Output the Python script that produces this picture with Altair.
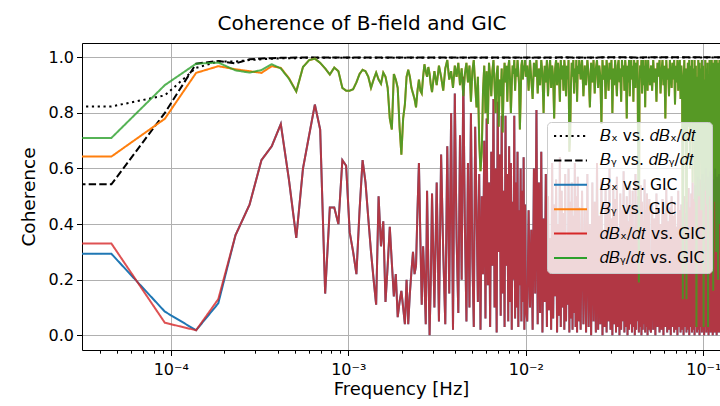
import altair as alt
import pandas as pd

# ---------------- data ----------------
bin_width_hz = 1.0 / 21600.0      # spectral bin width (6 h window)
dc_stand_in_hz = 1.0e-5           # stand-in for the 0 Hz bin (off the log axis, clipped)

B = "\U0001D435"
d = "\U0001D451"
t = "\U0001D461"
sx = "\u2093"
sy = "\u1D67"
series_labels = [
    f"{B}{sx} vs. {d}{B}{sx}/{d}{t}",
    f"{B}{sy} vs. {d}{B}{sy}/{d}{t}",
    f"{B}{sx} vs. GIC",
    f"{B}{sy} vs. GIC",
    f"{d}{B}{sx}/{d}{t} vs. GIC",
    f"{d}{B}{sy}/{d}{t} vs. GIC",
]
series_colors = ["#000000", "#000000", "#1f77b4", "#ff7f0e", "#d62728", "#2ca02c"]
series_dashes = [[2.2, 3.6], [7.4, 3.2], [1, 0], [1, 0], [1, 0], [1, 0]]

# Bx vs dBx/dt
bx_dbx_a = [0.823, 0.863, 0.962, 0.985, 0.985, 0.990, 0.993, 0.995, 0.996, 0.997, 0.997, 0.998]
bx_dbx_tail = [0.998, 0.998, 0.998, 0.999, 0.998, 0.999, 0.999, 0.999, 0.998, 0.999, 0.999, 0.999,
               0.999, 0.999, 0.999, 0.999, 0.999, 0.999, 0.999, 0.999, 0.999, 0.999, 0.999, 0.999, 0.999]
# By vs dBy/dt
by_dby_a = [0.543, 0.800, 0.977, 0.987, 0.978, 0.993, 0.996, 0.997, 0.998, 0.998, 0.999, 0.999]
by_dby_tail = [0.999, 0.999, 0.999, 1.000, 0.999, 1.000, 1.000, 1.000, 0.999, 1.000, 1.000, 1.000,
               1.000, 1.000, 1.000, 1.000, 1.000, 1.000, 1.000, 1.000, 1.000, 1.000, 1.000, 1.000, 1.000]

# dBx/dt vs GIC (bins 1..64, then thinned bins)
dbx_gic_a = [0.33, 0.045, 0.018, 0.13, 0.36, 0.47, 0.63, 0.68, 0.76, 0.56,
             0.35, 0.60, 0.72, 0.83, 0.74, 0.15, 0.46, 0.46, 0.40, 0.63,
             0.61, 0.37, 0.30, 0.22, 0.45, 0.63, 0.55, 0.42, 0.30, 0.20,
             0.11, 0.50, 0.32, 0.41, 0.12, 0.25, 0.39, 0.26, 0.14, 0.22,
             0.065, 0.12, 0.16, 0.10, 0.04, 0.20, 0.04, 0.15, 0.23, 0.30,
             0.22, 0.25, 0.45, 0.62, 0.35, 0.11, 0.32, 0.20, 0.04, 0.52,
             0.25, 0.00, 0.20, 0.51]
dbx_gic_b = [0.10, 0.55, 0.05, 0.65, 0.30, 0.04, 0.68, 0.15, 0.80, 0.02,
             0.87, 0.35, 0.08, 0.72, 0.20, 0.93, 0.40, 0.05, 0.62, 0.10,
             0.80, 0.28, 0.03, 0.75, 0.45, 0.12, 0.58, 0.02, 0.50, 0.22,
             0.70, 0.06, 0.78, 0.18, 0.55, 0.03, 0.66, 0.25, 0.85, 0.10,
             0.60, 0.01, 0.84, 0.30, 0.65, 0.07, 0.79, 0.15, 0.52, 0.03,
             0.79, 0.25, 0.58, 0.05, 0.68, 0.12, 0.62, 0.02, 0.48, 0.20,
             0.79, 0.06, 0.55, 0.10, 0.66, 0.03, 0.45, 0.18, 0.60, 0.05,
             0.52, 0.12, 0.64, 0.02, 0.47, 0.10]
dbx_gic_c1 = [0.05, 0.45, 0.10, 0.38, 0.02, 0.60, 0.15, 0.81, 0.04, 0.55,
              0.08, 0.66, 0.01, 0.42, 0.12, 0.58, 0.03, 0.50, 0.09, 0.35,
              0.02, 0.62, 0.06, 0.47, 0.14, 0.56, 0.01, 0.40, 0.07, 0.64,
              0.03, 0.52, 0.10, 0.44, 0.02, 0.58, 0.05, 0.36, 0.11, 0.60,
              0.01, 0.48, 0.06, 0.55, 0.02, 0.43, 0.08, 0.62, 0.03, 0.50,
              0.01, 0.57, 0.05, 0.46]
dbx_gic_c2 = [0.02, 0.52, 0.04, 0.45, 0.01, 0.58, 0.03, 0.40, 0.00, 0.55,
              0.05, 0.48, 0.01, 0.62, 0.02, 0.43, 0.04, 0.56, 0.00, 0.38,
              0.03, 0.53, 0.01, 0.47, 0.05, 0.60, 0.02, 0.42, 0.00, 0.54,
              0.04, 0.49, 0.01, 0.57, 0.03, 0.36, 0.00, 0.51, 0.02, 0.45,
              0.05, 0.59, 0.01, 0.44, 0.03, 0.50, 0.00, 0.41, 0.02, 0.55,
              0.04, 0.47, 0.01, 0.52, 0.03, 0.39, 0.00, 0.58, 0.02, 0.46,
              0.05, 0.50, 0.01, 0.43, 0.03, 0.54, 0.00, 0.48, 0.02, 0.41,
              0.04, 0.56, 0.01, 0.45, 0.03, 0.51, 0.00, 0.44, 0.02, 0.49,
              0.03]
dbx_gic_c3 = [0.01, 0.47, 0.02, 0.42, 0.00, 0.51, 0.03, 0.45, 0.01, 0.40,
              0.02, 0.49, 0.00, 0.44, 0.03, 0.53, 0.01, 0.41, 0.02, 0.46,
              0.00, 0.50, 0.03, 0.43, 0.01, 0.48, 0.02, 0.39, 0.00, 0.52,
              0.03, 0.45, 0.01, 0.47, 0.02, 0.42, 0.00, 0.50, 0.03, 0.44,
              0.01, 0.48, 0.02, 0.53, 0.00, 0.46, 0.03, 0.51, 0.01, 0.55,
              0.02, 0.49, 0.00, 0.54, 0.03, 0.50, 0.01, 0.57, 0.02, 0.52,
              0.00, 0.56, 0.03, 0.51, 0.01, 0.58, 0.02, 0.53, 0.00, 0.55,
              0.03, 0.60, 0.01, 0.54, 0.02, 0.57, 0.00, 0.52, 0.03, 0.59,
              0.01, 0.55, 0.02, 0.58, 0.00, 0.53, 0.03, 0.56, 0.01, 0.60,
              0.02, 0.54, 0.00, 0.57, 0.03, 0.52, 0.01, 0.58, 0.02, 0.55,
              0.01]
# Bx vs GIC differs only in the first bins
bx_gic_head = [0.293, 0.085, 0.018, 0.115]

# dBy/dt vs GIC
dby_gic_a = [0.71, 0.90, 0.977, 0.981, 0.953, 0.945, 0.954, 0.975, 0.96, 0.923,
             0.877, 0.965, 0.99, 0.995, 0.98, 0.96, 0.938, 0.963, 0.95, 0.89,
             0.88, 0.88, 0.885, 0.91, 0.94, 0.955, 0.95, 0.93, 0.89, 0.92,
             0.945, 0.92, 0.905, 0.945, 0.93, 0.89, 0.78, 0.74, 0.94, 0.92,
             0.89, 0.75, 0.65, 0.78, 0.83, 0.93, 0.955, 0.93, 0.89, 0.87,
             0.85, 0.82, 0.88, 0.92, 0.88, 0.87, 0.93, 0.975, 0.95, 0.93,
             0.965, 0.94, 0.90, 0.875]
dby_gic_b = [0.95, 0.90, 0.97, 0.93, 0.88, 0.96, 0.99, 0.92, 0.95, 0.89,
             0.97, 0.93, 0.98, 0.90, 0.96, 0.86, 0.94, 0.98, 0.91, 0.97,
             0.84, 0.95, 0.99, 0.90, 0.82, 0.93, 0.70, 0.59, 0.66, 0.88,
             0.97, 0.80, 0.95, 0.76, 0.98, 0.93, 0.86, 0.95, 0.99, 0.90,
             0.80, 0.94, 0.97, 0.75, 0.92, 0.86, 0.96, 0.73, 0.90, 0.98,
             0.91, 0.97, 0.84, 0.96, 0.99, 0.92, 0.80, 0.90, 0.97, 0.94,
             0.99, 0.88, 0.96, 0.93, 0.99, 0.95, 0.90, 0.74, 0.85, 0.97,
             0.99, 0.92, 0.97, 0.95, 0.99, 0.93]
dby_gic_c1 = [0.97, 0.88, 0.99, 0.92, 0.85, 0.98, 0.93, 0.99, 0.87, 0.96,
              0.90, 0.99, 0.94, 0.80, 0.97, 0.91, 0.99, 0.86, 0.95, 0.99,
              0.89, 0.97, 0.93, 0.78, 0.96, 0.99, 0.90, 0.98, 0.94, 0.84,
              0.99, 0.92, 0.97, 0.88, 0.99, 0.95, 0.86, 0.97, 0.92, 0.99,
              0.66, 0.72, 0.90, 0.98, 0.93, 0.99, 0.87, 0.96, 0.91, 0.99,
              0.84, 0.97, 0.94, 0.99]
dby_gic_c2 = [0.92, 0.99, 0.86, 0.97, 0.90, 0.99, 0.94, 0.82, 0.98, 0.91,
              0.99, 0.87, 0.96, 0.99, 0.89, 0.97, 0.93, 0.76, 0.99, 0.92,
              0.97, 0.85, 0.99, 0.94, 0.88, 0.98, 0.92, 0.99, 0.80, 0.96,
              0.90, 0.99, 0.93, 0.86, 0.97, 0.99, 0.91, 0.96, 0.84, 0.99,
              0.93, 0.97, 0.88, 0.99, 0.95, 0.78, 0.97, 0.91, 0.99, 0.86,
              0.96, 0.99, 0.92, 0.97, 0.84, 0.99, 0.94, 0.89, 0.98, 0.92,
              0.99, 0.62, 0.19, 0.90, 0.97, 0.93, 0.99, 0.87, 0.96, 0.99,
              0.90, 0.97, 0.82, 0.99, 0.94, 0.97, 0.88, 0.99, 0.93, 0.96,
              0.90]
dby_gic_c3 = [0.97, 0.88, 0.99, 0.91, 0.96, 0.84, 0.98, 0.93, 0.99, 0.87,
              0.95, 0.99, 0.90, 0.97, 0.78, 0.99, 0.92, 0.96, 0.86, 0.99,
              0.94, 0.89, 0.98, 0.92, 0.99, 0.83, 0.97, 0.91, 0.99, 0.88,
              0.96, 0.99, 0.85, 0.97, 0.92, 0.13, 0.90, 0.99, 0.70, 0.96,
              0.13, 0.88, 0.98, 0.75, 0.99, 0.60, 0.97, 0.82, 0.99, 0.55,
              0.96, 0.70, 0.99, 0.48, 0.97, 0.03, 0.93, 0.65, 0.99, 0.50,
              0.98, 0.72, 0.96, 0.45, 0.99, 0.60, 0.97, 0.03, 0.92, 0.52,
              0.99, 0.68, 0.96, 0.47, 0.98, 0.03, 0.94, 0.58, 0.99, 0.50,
              0.97, 0.45, 0.99, 0.62, 0.95, 0.16, 0.98, 0.48, 0.99, 0.55,
              0.96, 0.30, 0.99, 0.50, 0.97, 0.20, 0.98, 0.46, 0.99, 0.40,
              0.97]
# By vs GIC differs only in the first bins
by_gic_head = [0.643, 0.779, 0.944, 0.968, 0.957, 0.950, 0.944, 0.968, 0.962, 0.925]

# (first bin, bin step, values) per series
series_segments = [
    [(1, 1, bx_dbx_a), (24, 112, bx_dbx_tail)],
    [(1, 1, by_dby_a), (24, 112, by_dby_tail)],
    [(1, 1, bx_gic_head + dbx_gic_a[len(bx_gic_head):]), (66, 2, dbx_gic_b),
     (220, 4, dbx_gic_c1), (440, 8, dbx_gic_c2), (1096, 16, dbx_gic_c3)],
    [(1, 1, by_gic_head + dby_gic_a[len(by_gic_head):]), (66, 2, dby_gic_b),
     (220, 4, dby_gic_c1), (440, 8, dby_gic_c2), (1096, 16, dby_gic_c3)],
    [(1, 1, dbx_gic_a), (66, 2, dbx_gic_b),
     (220, 4, dbx_gic_c1), (440, 8, dbx_gic_c2), (1096, 16, dbx_gic_c3)],
    [(1, 1, dby_gic_a), (66, 2, dby_gic_b),
     (220, 4, dby_gic_c1), (440, 8, dby_gic_c2), (1096, 16, dby_gic_c3)],
]

rows = []
for label, segs in zip(series_labels, series_segments):
    rows.append({"series": label, "freq": dc_stand_in_hz, "coh": segs[0][2][0]})
    for start, step, vals in segs:
        for i, v in enumerate(vals):
            rows.append({"series": label, "freq": (start + i * step) * bin_width_hz, "coh": v})
df = pd.DataFrame(rows)

# ---------------- chart ----------------
FONT = "DejaVu Sans"
W, H = 638, 307

x_scale = alt.Scale(type="log", domain=[3.161e-5, 0.12416], nice=False)
y_scale = alt.Scale(domain=[-0.053, 1.0515], nice=False, zero=False)

minor_ticks = [m * 1e-5 for m in range(4, 10)]
for dec in [1e-4, 1e-3, 1e-2]:
    minor_ticks += [m * dec for m in range(1, 10)]
minor_ticks += [1e-1]

e = "round(log(datum.value)/LN10)"
is_major = f"abs(log(datum.value)/LN10 - {e}) < 0.001"
label_expr = (f"{is_major} ? ({e} == -4 ? '10\u207b\u2074' : {e} == -3 ? '10\u207b\u00b3' : "
              f"{e} == -2 ? '10\u207b\u00b2' : '10\u207b\u00b9') : ''")

x_axis = alt.Axis(
    values=minor_ticks, labelExpr=label_expr,
    tickSize={"condition": {"test": is_major, "value": 5.5}, "value": 3.2},
    gridOpacity={"condition": {"test": is_major, "value": 1}, "value": 0},
    grid=True, gridColor="#b0b0b0", gridWidth=1,
    tickColor="#000", tickWidth=1, domainColor="#000", domainWidth=1,
    labelFont=FONT, labelFontSize=16, labelColor="#000", labelPadding=6,
    labelFlush=False, labelOverlap=False,
    title="Frequency [Hz]", titleFont=FONT, titleFontSize=18, titleFontWeight="normal",
    titleColor="#000", titleBaseline="alphabetic", titleY=44, titleX=W / 2,
)
x_axis_top = alt.Axis(orient="top", labels=False, ticks=False, grid=False, domain=True,
                      domainColor="#000", domainWidth=1, title=None)
y_axis = alt.Axis(
    values=[0.0, 0.2, 0.4, 0.6, 0.8, 1.0], format=".1f",
    grid=True, gridColor="#b0b0b0", gridWidth=1,
    tickSize=5.5, tickColor="#000", tickWidth=1, domainColor="#000", domainWidth=1,
    labelFont=FONT, labelFontSize=16, labelColor="#000", labelPadding=3,
    title="Coherence", titleFont=FONT, titleFontSize=18.5, titleFontWeight="normal",
    titleColor="#000", titleAngle=-90, titleBaseline="alphabetic", titleAlign="center",
    titleX=-48, titleY=H / 2,
)

legend = alt.Legend(
    orient="none", legendX=465, legendY=79, title=None,
    symbolType="stroke", symbolSize=1089, symbolStrokeWidth=2, clipHeight=16,
    rowPadding=7.4, padding=6, labelOffset=12,
    labelFont=FONT, labelFontSize=15.5, labelColor="#000", labelLimit=0,
    strokeColor="#cccccc", fillColor="rgba(255,255,255,0.8)", cornerRadius=4,
)
color_scale = alt.Scale(domain=series_labels, range=series_colors)
dash_scale = alt.Scale(domain=series_labels, range=series_dashes)

layer_opacity = [1, 1, 1, 1, 0.8, 0.8]
layers = []
for i, label in enumerate(series_labels):
    if i == 0:
        xa = x_axis
    elif i == 1:
        xa = x_axis_top
    else:
        xa = None
    layers.append(
        alt.Chart(df)
        .transform_filter(alt.datum.series == label)
        .mark_line(clip=True, strokeWidth=2, opacity=layer_opacity[i], strokeCap="butt")
        .encode(
            x=alt.X("freq:Q", scale=x_scale, axis=xa),
            y=alt.Y("coh:Q", scale=y_scale, axis=y_axis),
            color=alt.Color("series:N", scale=color_scale, legend=legend),
            strokeDash=alt.StrokeDash("series:N", scale=dash_scale, legend=legend),
        )
    )

chart = (
    alt.layer(*layers)
    .resolve_axis(x="independent")
    .properties(
        width=W, height=H, autosize="none",
        padding={"left": 82, "top": 43, "right": 0, "bottom": 56},
        title=alt.TitleParams(
            "Coherence of B-field and GIC", font=FONT, fontSize=20, fontWeight="normal",
            color="#000", anchor="middle", baseline="alphabetic", offset=14, dx=-39, dy=21,
        ),
    )
    .configure_view(stroke=None)
    .configure(background="white")
)

chart.save("out.html", embed_options={"renderer": "svg", "actions": False})
